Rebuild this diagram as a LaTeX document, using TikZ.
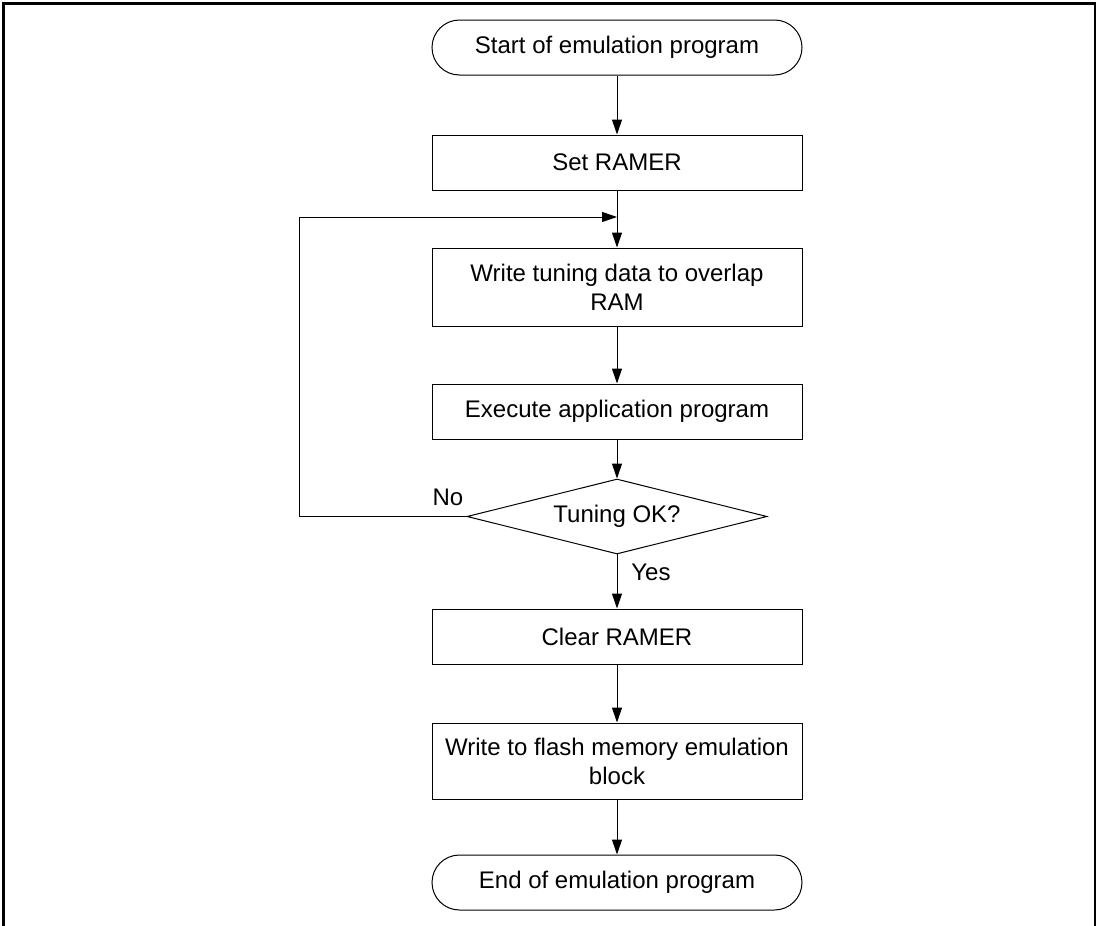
\documentclass[tikz,border=0pt]{standalone}
\usepackage{fontspec}
\setmainfont{Liberation Sans}
\usetikzlibrary{shapes.geometric,arrows.meta}
\tikzset {
  process box/.style = {
    draw,
    line width=0.5pt,
    minimum width=185pt,
    minimum height=27.5pt,
    inner sep=0pt,
    align=center,
    font=\fontsize{12}{14.5}\selectfont
  },
  terminal box/.style = {
    process box,
    rounded corners=13.75pt
  },
  decision box/.style = {
    draw,
    diamond,
    aspect=4,
    line width=0.5pt,
    minimum width=150pt,
    minimum height=37.5pt,
    inner sep=0pt,
    font=\fontsize{12}{14.5}\selectfont
  },
  flow label/.style = {
    inner sep=0pt,
    font=\fontsize{12}{14.5}\selectfont
  },
  flow arrow/.style = {
    line width=0.5pt,
    -{Triangle[length=7.5pt,width=5pt]}
  }
}

\begin{document}
\begin{tikzpicture}[x=0.5pt, y=-0.5pt]

\useasboundingbox (0,0) rectangle (1100,926);

% --- Frame ---
\draw[line width=1pt] (3.5,926) -- (3.5,3.5) -- (1094.5,3.5) -- (1094.5,926);

% --- Steps ---
\node[terminal box] (start) at (617, 47.5) {Start of emulation program};
\node[process box]  (setr)  at (617,162.5) {Set RAMER};
\node[process box, minimum height=39pt] (tune) at (617,287)
  {Write tuning data to overlap\\RAM};
\node[process box]  (exec)  at (617,411.5) {Execute application program};
\node[decision box] (check) at (617,516.5) {Tuning OK?};
\node[process box]  (clear) at (617,636.5) {Clear RAMER};
\node[process box, minimum height=38pt] (flash) at (617,761)
  {Write to flash memory emulation\\block};
\node[terminal box] (end)   at (617,882.5) {End of emulation program};

\coordinate (join) at (617,217);
\coordinate (loop) at (299,516.5);

\node[flow label] (no)  at (448,497) {No};
\node[flow label] (yes) at (651,572) {Yes};

% --- Connectors ---
\draw[flow arrow] (start) -- (setr);
\draw[flow arrow] (setr)  -- (tune);
\draw[flow arrow] (tune)  -- (exec);
\draw[flow arrow] (exec)  -- (check);
\draw[flow arrow] (check) -- (clear);
\draw[flow arrow] (clear) -- (flash);
\draw[flow arrow] (flash) -- (end);
\draw[flow arrow] (check.west) -- (loop) |- (join);

\end{tikzpicture}
\end{document}
